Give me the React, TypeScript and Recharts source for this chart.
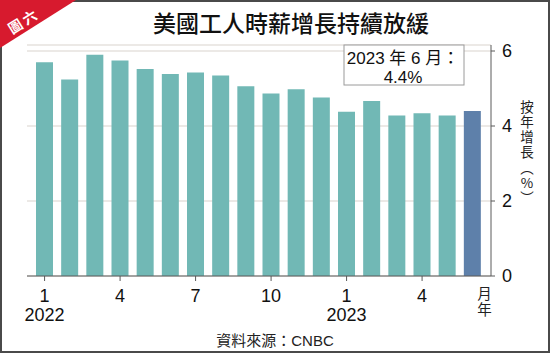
import React from 'react';
import { BarChart, Bar, XAxis, YAxis, CartesianGrid, Cell } from 'recharts';

const categories = ['2022-01','2022-02','2022-03','2022-04','2022-05','2022-06','2022-07','2022-08','2022-09','2022-10','2022-11','2022-12','2023-01','2023-02','2023-03','2023-04','2023-05','2023-06'];
const wageGrowth = [5.70, 5.24, 5.90, 5.75, 5.52, 5.39, 5.43, 5.35, 5.06, 4.87, 4.98, 4.76, 4.38, 4.67, 4.28, 4.34, 4.28, 4.40];
const monthTickLabels = ['1','','','4','','','7','','','10','','','1','','','4','',''];
const yearTickLabels = ['2022','','','','','','','','','','','','2023','','','','',''];
const unitTickLabel = '月年';
const yTicks = [0, 2, 4, 6];
const highlighted = [false,false,false,false,false,false,false,false,false,false,false,false,false,false,false,false,false,true];
const title = '美國工人時薪增長持續放緩';
const badge = ['圖', '六'];
const annotation = ['2023 年 6 月：', '4.4%'];
const yLabel = '按年增長︵%︶';
const source = '資料來源：CNBC';

const data = categories.map((c, i) => ({ cat: c, value: wageGrowth[i] }));

const FONT = '"Liberation Sans", Arial, "Noto Sans CJK TC", sans-serif';
const CJK = '"Noto Sans CJK TC", "Liberation Sans", sans-serif';
const TEAL = '#71b8b5';
const BLUE = '#5e80aa';
const AXIS = '#5a5a5a';
const GRID = '#d9d3cd';

const XTick = (props: any) => {
  const { x, y, payload } = props;
  const i = payload.index;
  const m = monthTickLabels[i];
  const yr = yearTickLabels[i];
  if (i === categories.length - 1) {
    return (
      <text
        x={x + 12}
        y={y + 10}
        fontSize={14.5}
        fill="#222"
        fontFamily={CJK}
        style={{ writingMode: 'vertical-rl', textOrientation: 'upright', letterSpacing: '2px' } as any}
      >
        {unitTickLabel}
      </text>
    );
  }
  if (!m) return <g />;
  return (
    <g>
      <line x1={x} x2={x} y1={y} y2={y + 5} stroke={AXIS} strokeWidth={1} />
      <text x={x} y={y + 26} textAnchor="middle" fontSize={18} fill="#111" fontFamily={FONT}>{m}</text>
      {yr ? <text x={x} y={y + 45} textAnchor="middle" fontSize={18} fill="#111" fontFamily={FONT}>{yr}</text> : null}
    </g>
  );
};

export default function App() {
  return (
    <div style={{ position: 'absolute', left: 0, top: 0, width: 550, height: 353, background: '#fff' }}>
      <BarChart width={550} height={353} data={data} margin={{ top: 45, right: 0, bottom: 0, left: 27 }}>
        <CartesianGrid vertical={false} stroke={GRID} strokeWidth={1.2} yAxisId="r" />
        <XAxis
          dataKey="cat"
          interval={0}
          height={77}
          tickLine={false}
          tickSize={0}
          tickMargin={0}
          axisLine={{ stroke: AXIS, strokeWidth: 1 }}
          padding={{ left: 5, right: 6 }}
          tick={<XTick />}
        />
        <YAxis
          yAxisId="r"
          orientation="right"
          width={59}
          domain={[0, 6.16]}
          ticks={yTicks}
          interval={0}
          allowDataOverflow
          tickSize={4}
          tickMargin={7}
          axisLine={{ stroke: AXIS, strokeWidth: 1 }}
          tickLine={{ stroke: AXIS }}
          tick={{ fontSize: 18, fill: '#111', fontFamily: FONT, textAnchor: 'start' }}
        />
        <YAxis
          yAxisId="l"
          orientation="left"
          width={0}
          domain={[0, 6.16]}
          tick={false}
          tickLine={false}
          axisLine={{ stroke: AXIS, strokeWidth: 1 }}
        />
        <Bar dataKey="value" yAxisId="r" barSize={17} isAnimationActive={false}>
          {data.map((d, i) => (
            <Cell key={d.cat} fill={highlighted[i] ? BLUE : TEAL} />
          ))}
        </Bar>
      </BarChart>
      <svg width={550} height={353} style={{ position: 'absolute', left: 0, top: 0, pointerEvents: 'none' }}>
        <rect x={1} y={1} width={548} height={351} fill="none" stroke="#4a4a4a" strokeWidth={2} />
        <polygon points="0,0 76,0 0,48" fill="#d71a2e" />
        <g transform="rotate(-32 22 20)">
          <text x={13} y={27} textAnchor="middle" fontSize={14} fontWeight={700} fill="#fff" fontFamily={CJK}>
            <tspan x={13}>{badge[0]}</tspan>
            <tspan x={30}>{badge[1]}</tspan>
          </text>
        </g>
        <text x={291} y={32} textAnchor="middle" fontSize={23} fill="#111" fontFamily={CJK} fontWeight={500}>{title}</text>
        <rect x={344} y={45} width={120} height={40} fill="#fff" stroke="#9a9a9a" strokeWidth={1} />
        <text x={403} y={64} textAnchor="middle" fontSize={17} fill="#111" fontFamily={FONT}>
          <tspan x={403}>{annotation[0]}</tspan>
          <tspan x={403} dy={19}>{annotation[1]}</tspan>
        </text>
        <text
          x={527}
          y={100}
          fontSize={13.5}
          fill="#222"
          fontFamily={CJK}
          style={{ writingMode: 'vertical-rl', textOrientation: 'upright', letterSpacing: '1.7px' } as any}
        >
          {yLabel}
        </text>
        <text x={275} y={346} textAnchor="middle" fontSize={15} fill="#222" fontFamily={FONT}>{source}</text>
      </svg>
    </div>
  );
}
